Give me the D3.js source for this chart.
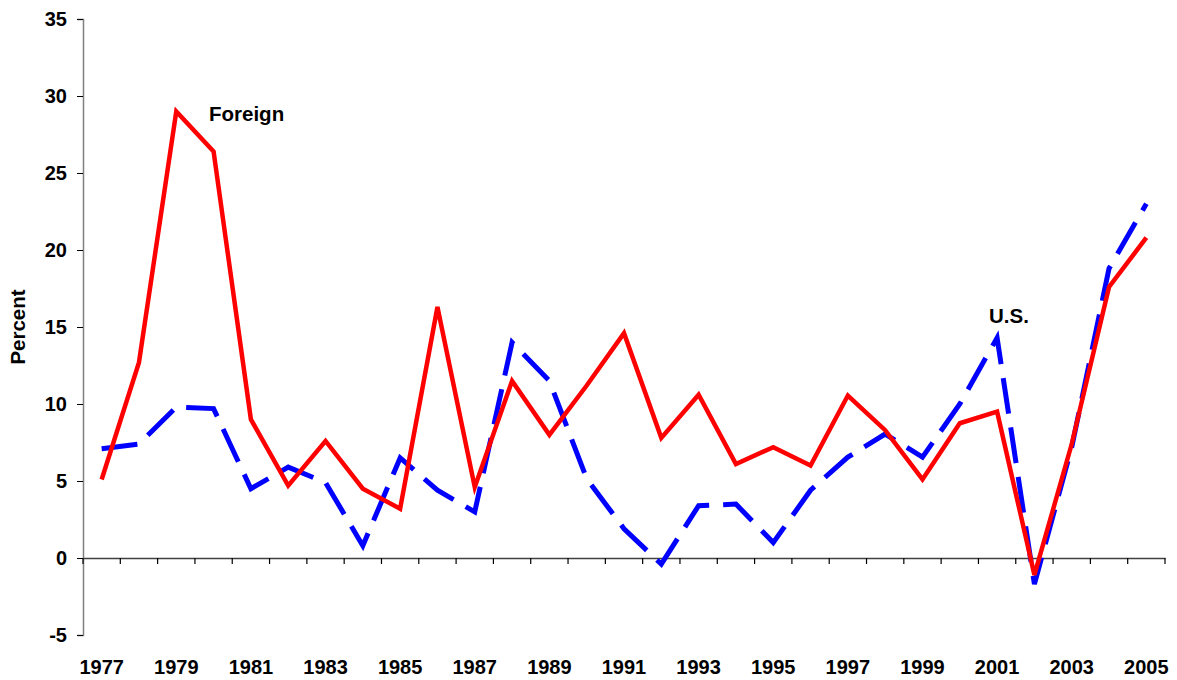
<!DOCTYPE html>
<html><head><meta charset="utf-8">
<script src="https://cdn.jsdelivr.net/npm/d3@7"></script>
<style>body{margin:0;background:#fff}svg{display:block}</style>
</head><body><svg id="chart" width="1177" height="680"></svg>
<script>
const years = [1977,1978,1979,1980,1981,1982,1983,1984,1985,1986,1987,1988,1989,1990,1991,1992,1993,1994,1995,1996,1997,1998,1999,2000,2001,2002,2003,2004,2005];
const foreign = [5.1,12.7,29.0,26.4,9.0,4.7,7.6,4.5,3.2,16.3,4.6,11.5,8.0,11.2,14.6,7.8,10.6,6.1,7.2,6.0,10.55,8.3,5.1,8.75,9.5,-1.1,7.4,17.6,20.8];
const us = [7.1,7.4,9.8,9.7,4.5,5.9,4.9,0.8,6.5,4.4,3.0,14.0,11.5,5.15,1.9,-0.4,3.4,3.5,1.0,4.4,6.55,8.05,6.55,10.0,14.3,-1.7,7.2,18.8,23.0];
const yTicks = [-5,0,5,10,15,20,25,30,35];
const xLabels = years.filter((d,i)=>i%2===0);

(function(){
const svg = d3.select("#chart");
const mL = 83, mR = 1165, mT = 19, mB = 635;
const font = "Liberation Sans, Arial, sans-serif";

const x = d3.scaleBand().domain(years).range([mL, mR]).padding(0);
const y = d3.scaleLinear().domain([-5,35]).range([mB, mT]);
const cx = d => x(d) + x.bandwidth()/2;

const yAxis = svg.append("g").attr("transform", `translate(${mL},0)`)
  .call(d3.axisLeft(y).tickValues(yTicks).tickSize(6).tickPadding(10).tickFormat(d => String(d)));
yAxis.select(".domain").attr("stroke","#808080").attr("stroke-width",1.5);
yAxis.selectAll(".tick line").attr("stroke","#000").attr("stroke-width",1);
yAxis.selectAll("text").attr("font-family",font).attr("font-weight","bold").attr("font-size",20).attr("fill","#000");

const xAxis = svg.append("g").attr("transform", `translate(0,${y(0)})`)
  .call(d3.axisBottom(x).tickValues([]).tickSizeOuter(0));
xAxis.select(".domain").attr("stroke","#404040").attr("stroke-width",1.5);
const bounds = years.map(d => x(d)).concat([mR]);
svg.append("g").selectAll("line").data(bounds).join("line")
  .attr("x1", d=>d).attr("x2", d=>d).attr("y1", y(0)).attr("y2", y(0)+6)
  .attr("stroke","#000").attr("stroke-width",1.2);

svg.append("g").selectAll("text").data(xLabels).join("text")
  .attr("x", d=>cx(d)).attr("y", 674).attr("text-anchor","middle")
  .attr("font-family",font).attr("font-weight","bold").attr("font-size",20).text(d=>d);

svg.append("text").attr("transform",`translate(25,${(mT+mB)/2}) rotate(-90)`)
  .attr("text-anchor","middle").attr("font-family",font).attr("font-weight","bold").attr("font-size",20.5).text("Percent");

const line = d3.line().x((d,i)=>cx(years[i])).y(d=>y(d));
svg.append("path").datum(us).attr("d",line).attr("fill","none")
  .attr("stroke","#0000FF").attr("stroke-width",5).attr("stroke-dasharray","36,14");
svg.append("path").datum(foreign).attr("d",line).attr("fill","none")
  .attr("stroke","#FF0000").attr("stroke-width",4.5).attr("stroke-linejoin","miter");

svg.append("text").attr("x",209).attr("y",121).attr("font-family",font).attr("font-weight","bold").attr("font-size",20.5).text("Foreign");
svg.append("text").attr("x",989).attr("y",323).attr("font-family",font).attr("font-weight","bold").attr("font-size",20.5).text("U.S.");
})();
</script></body></html>
